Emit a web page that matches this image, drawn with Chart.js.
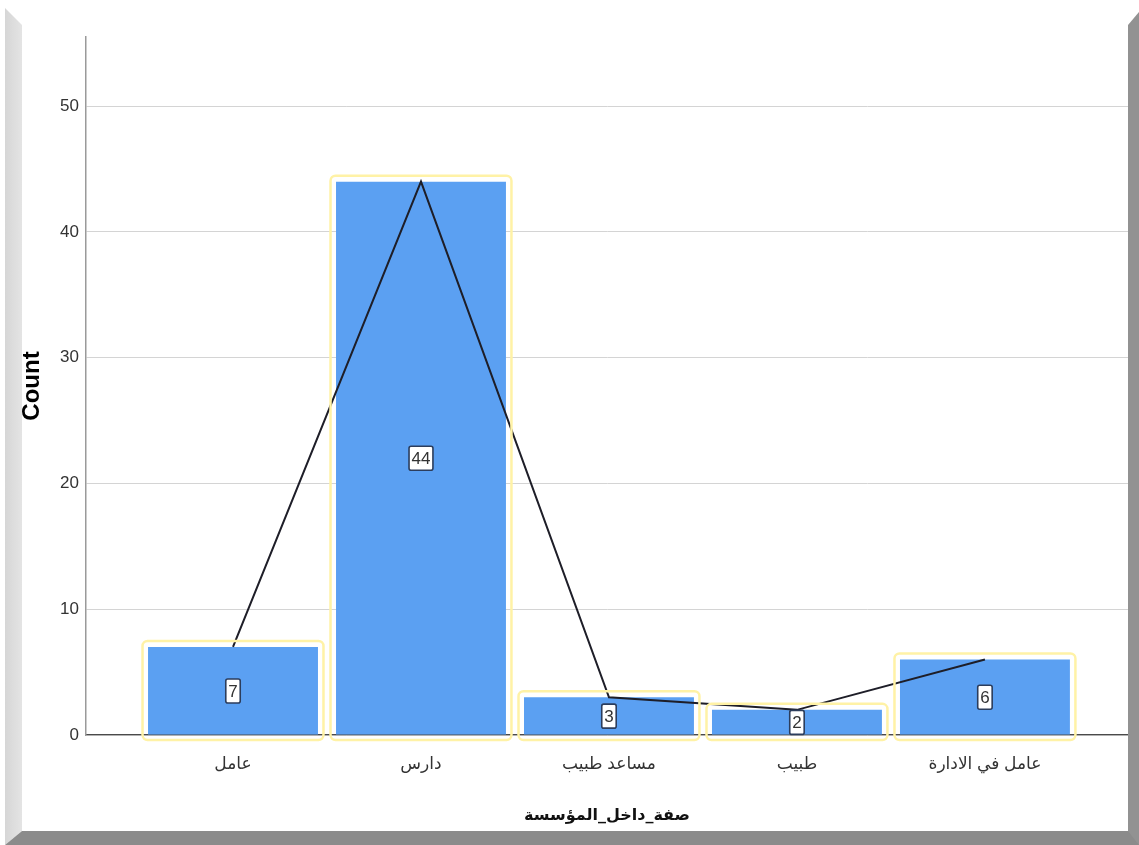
<!DOCTYPE html>
<html>
<head>
<meta charset="utf-8">
<script src="https://cdn.jsdelivr.net/npm/chart.js@4/dist/chart.umd.min.js"></script>
<style>
  html, body { margin: 0; padding: 0; background: #ffffff; }
  #wrap { position: relative; width: 1139px; height: 845px; overflow: hidden; background: #ffffff; }
  #chart { position: absolute; left: 0; top: 0; }
  .edge { position: absolute; pointer-events: none; }
  #edgeLeft { left: 5px; top: 8px; width: 17px; height: 837px;
    background: linear-gradient(90deg, #d6d6d6, #e4e4e4);
    clip-path: polygon(0 0, 100% 17px, 100% 823px, 0 100%); }
  #edgeBottom { left: 5px; top: 831px; width: 1134px; height: 14px; background: #8b8b8b;
    clip-path: polygon(17px 0, 100% 0, 100% 100%, 0 100%); }
  #edgeRight { left: 1128px; top: 12px; width: 11px; height: 833px; background: #929292;
    clip-path: polygon(0 13px, 100% 0, 100% 100%, 0 819px); }
</style>
</head>
<body>
<div id="wrap">
  <canvas id="chart" width="1139" height="845"></canvas>
  <div class="edge" id="edgeLeft"></div>
  <div class="edge" id="edgeBottom"></div>
  <div class="edge" id="edgeRight"></div>
</div>
<script>
// Staff roles inside the institution and how many respondents hold each one
const categories = ['عامل', 'دارس', 'مساعد طبيب', 'طبيب', 'عامل في الادارة'];
const counts = [7, 44, 3, 2, 6];
const yTickValues = [0, 10, 20, 30, 40, 50];
const yMax = 55.5;
const xTitle = 'صفة_داخل_المؤسسة';
const yTitle = 'Count';

const points = counts.map((v, i) => ({ x: i, y: v }));

function roundRect(ctx, x, y, w, h, r) {
  ctx.beginPath();
  ctx.moveTo(x + r, y);
  ctx.lineTo(x + w - r, y);
  ctx.arcTo(x + w, y, x + w, y + r, r);
  ctx.lineTo(x + w, y + h - r);
  ctx.arcTo(x + w, y + h, x + w - r, y + h, r);
  ctx.lineTo(x + r, y + h);
  ctx.arcTo(x, y + h, x, y + h - r, r);
  ctx.lineTo(x, y + r);
  ctx.arcTo(x, y, x + r, y, r);
  ctx.closePath();
}

// Yellow selection outline around every bar
const barOutline = {
  id: 'barOutline',
  afterDatasetsDraw(chart) {
    const meta = chart.getDatasetMeta(1);
    const ctx = chart.ctx;
    ctx.save();
    ctx.strokeStyle = '#fff2a6';
    ctx.lineWidth = 2.5;
    meta.data.forEach(bar => {
      const p = bar.getProps(['x', 'y', 'base', 'width'], true);
      const x = p.x - p.width / 2 - 5.5;
      const y = p.y - 6;
      roundRect(ctx, x, y, p.width + 11, p.base - p.y + 11.5, 5);
      ctx.stroke();
    });
    ctx.restore();
  }
};

// Boxed value label at half height of each bar
const valueLabels = {
  id: 'valueLabels',
  afterDraw(chart) {
    const ctx = chart.ctx;
    const xs = chart.scales.x, ys = chart.scales.y;
    ctx.save();
    ctx.font = '17px "Liberation Sans Narrow", "Liberation Sans", sans-serif';
    ctx.textAlign = 'center';
    ctx.textBaseline = 'middle';
    counts.forEach((v, i) => {
      const cx = xs.getPixelForValue(i);
      const cy = ys.getPixelForValue(v / 2);
      const txt = String(v);
      const w = ctx.measureText(txt).width + 5;
      const h = 24;
      roundRect(ctx, cx - w / 2, cy - h / 2, w, h, 2);
      ctx.fillStyle = '#ffffff';
      ctx.fill();
      ctx.lineWidth = 1.6;
      ctx.strokeStyle = '#2c3d5c';
      ctx.stroke();
      ctx.fillStyle = '#333333';
      ctx.fillText(txt, cx, cy + 1);
    });
    ctx.restore();
  }
};

new Chart(document.getElementById('chart'), {
  data: {
    datasets: [
      {
        type: 'line',
        data: points,
        borderColor: '#1e1e28',
        borderWidth: 2,
        pointRadius: 0,
        tension: 0,
        order: 0
      },
      {
        type: 'bar',
        data: points,
        backgroundColor: '#5ba0f2',
        borderWidth: 0,
        barPercentage: 0.904,
        categoryPercentage: 1,
        order: 1
      }
    ]
  },
  plugins: [barOutline, valueLabels],
  options: {
    responsive: false,
    animation: false,
    layout: { padding: { left: 0, top: 37, right: 11, bottom: 0 } },
    plugins: { legend: { display: false }, tooltip: { enabled: false } },
    scales: {
      x: {
        type: 'linear',
        offset: false,
        min: -0.782,
        max: 4.761,
        afterBuildTicks(scale) { scale.ticks = categories.map((c, i) => ({ value: i })); },
        afterFit(scale) { scale.height = 110; },
        grid: { display: false, drawTicks: false, offset: false },
        border: { display: true, color: '#4a4a4a', width: 1.2 },
        ticks: {
          padding: 19,
          autoSkip: false,
          maxRotation: 0,
          color: '#333333',
          font: { family: '"Liberation Sans", "DejaVu Sans", sans-serif', size: 17 },
          callback: (v) => categories[v]
        },
        title: {
          display: true,
          text: xTitle,
          color: '#111111',
          font: { family: '"DejaVu Sans", sans-serif', size: 16, weight: 'bold' },
          padding: { top: 0, bottom: 20 }
        }
      },
      y: {
        min: 0,
        max: yMax,
        afterBuildTicks(scale) { scale.ticks = yTickValues.map(v => ({ value: v })); },
        afterFit(scale) { scale.width = 86; },
        grid: { color: '#d4d4d4', lineWidth: 1, drawTicks: false },
        border: { display: true, color: '#9a9a9a', width: 1.5 },
        ticks: {
          padding: 7,
          color: '#333333',
          font: { family: '"Liberation Sans Narrow", "Liberation Sans", sans-serif', size: 17 }
        },
        title: {
          display: true,
          text: yTitle,
          color: '#000000',
          font: { family: '"Liberation Sans", sans-serif', size: 24, weight: 'bold' },
          padding: { top: 18, bottom: 0 }
        }
      }
    }
  }
});
</script>
</body>
</html>
